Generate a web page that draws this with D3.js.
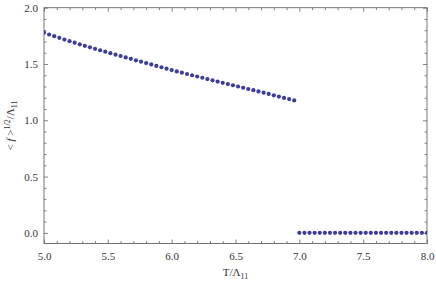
<!DOCTYPE html>
<html><head><meta charset="utf-8">
<script src="https://cdn.jsdelivr.net/npm/d3@7"></script>
<style>body{margin:0;background:#fff}svg{display:block}svg text{font-family:"Liberation Serif","DejaVu Serif",serif !important;fill:#333}</style>
</head><body><svg id="c" width="436" height="283"></svg>
<script>
const tUpper = [5.00,5.04,5.08,5.12,5.16,5.20,5.24,5.28,5.32,5.36,5.40,5.44,5.48,5.52,5.56,5.60,5.64,5.68,5.72,5.76,5.80,5.84,5.88,5.92,5.96,6.00,6.04,6.08,6.12,6.16,6.20,6.24,6.28,6.32,6.36,6.40,6.44,6.48,6.52,6.56,6.60,6.64,6.68,6.72,6.76,6.80,6.84,6.88,6.92,6.96];
const fUpper = [1.778,1.762,1.747,1.732,1.717,1.703,1.689,1.675,1.661,1.648,1.635,1.622,1.609,1.596,1.583,1.571,1.558,1.546,1.533,1.521,1.508,1.496,1.483,1.471,1.458,1.446,1.434,1.423,1.411,1.400,1.389,1.378,1.366,1.355,1.344,1.333,1.322,1.311,1.300,1.289,1.278,1.267,1.256,1.245,1.234,1.222,1.211,1.199,1.188,1.176];
const tLower = [7.00,7.04,7.08,7.12,7.16,7.20,7.24,7.28,7.32,7.36,7.40,7.44,7.48,7.52,7.56,7.60,7.64,7.68,7.72,7.76,7.80,7.84,7.88,7.92,7.96,8.00];
const fLower = [0,0,0,0,0,0,0,0,0,0,0,0,0,0,0,0,0,0,0,0,0,0,0,0,0,0];
const xTicks = [5.0,5.5,6.0,6.5,7.0,7.5,8.0];
const yTicks = [0.0,0.5,1.0,1.5,2.0];

const svg = d3.select("#c");
const L=44,R=427,T=7.7,B=243.5;
const x = d3.scaleLinear().domain([5,8]).range([L,R]);
const y = d3.scaleLinear().domain([-0.0945,2.0]).range([B,T]);
const frame="#666";

svg.append("defs").append("clipPath").attr("id","clip").append("rect")
  .attr("x",L).attr("y",T).attr("width",R-L).attr("height",B-T);

const xMinor = d3.range(50,81).map(v=>v/10).filter(v=>Math.abs(v*2-Math.round(v*2))>1e-6);
const yMinor = d3.range(0,21).map(v=>v/10).filter(v=>Math.abs(v*2-Math.round(v*2))>1e-6);

const gB = svg.append("g").attr("transform",`translate(0,${B})`)
  .call(d3.axisBottom(x).tickValues(xTicks).tickFormat(d3.format(".1f")).tickSizeInner(-4).tickSizeOuter(0).tickPadding(9));
const gBm = svg.append("g").attr("transform",`translate(0,${B})`)
  .call(d3.axisBottom(x).tickValues(xMinor).tickFormat("").tickSizeInner(-2.5).tickSizeOuter(0));
const gT = svg.append("g").attr("transform",`translate(0,${T})`)
  .call(d3.axisTop(x).tickValues(xTicks).tickFormat("").tickSizeInner(-4).tickSizeOuter(0));
const gTm = svg.append("g").attr("transform",`translate(0,${T})`)
  .call(d3.axisTop(x).tickValues(xMinor).tickFormat("").tickSizeInner(-2.5).tickSizeOuter(0));
const gL = svg.append("g").attr("transform",`translate(${L},0)`)
  .call(d3.axisLeft(y).tickValues(yTicks).tickFormat(d3.format(".1f")).tickSizeInner(-4).tickSizeOuter(0).tickPadding(6));
const gLm = svg.append("g").attr("transform",`translate(${L},0)`)
  .call(d3.axisLeft(y).tickValues(yMinor).tickFormat("").tickSizeInner(-2.5).tickSizeOuter(0));
const gR = svg.append("g").attr("transform",`translate(${R},0)`)
  .call(d3.axisRight(y).tickValues(yTicks).tickFormat("").tickSizeInner(-4).tickSizeOuter(0));
const gRm = svg.append("g").attr("transform",`translate(${R},0)`)
  .call(d3.axisRight(y).tickValues(yMinor).tickFormat("").tickSizeInner(-2.5).tickSizeOuter(0));

[gB,gBm,gT,gTm,gL,gLm,gR,gRm].forEach(g=>{
  g.attr("font-family",null);
  g.selectAll(".domain").remove();
  g.selectAll("line").attr("stroke",frame).attr("stroke-width",0.8);
  g.selectAll("text").style("font-family","'Liberation Serif', serif").attr("font-size",11).attr("fill","#333");
});
svg.append("rect").attr("x",L).attr("y",T).attr("width",R-L).attr("height",B-T)
  .attr("fill","none").attr("stroke",frame).attr("stroke-width",0.9);

const color="#3d3d99";
const pts = svg.append("g").attr("clip-path","url(#clip)");
pts.selectAll("circle.u").data(tUpper.map((t,i)=>[t,fUpper[i]])).join("circle")
  .attr("class","u").attr("cx",d=>x(d[0])).attr("cy",d=>y(d[1])).attr("r",2.1).attr("fill",color);
pts.selectAll("circle.l").data(tLower.map((t,i)=>[t,fLower[i]])).join("circle")
  .attr("class","l").attr("cx",d=>x(d[0])).attr("cy",d=>y(d[1])).attr("r",2.1).attr("fill",color);

const xl = svg.append("text").attr("x",(L+R)/2).attr("y",276).attr("text-anchor","middle").attr("font-size",11);
xl.append("tspan").text("T/Λ");
xl.append("tspan").attr("font-size",8).attr("dy",2.5).text("11");
const yl = svg.append("text").attr("transform",`translate(14,${(T+B)/2}) rotate(-90)`).attr("text-anchor","middle").attr("font-size",11);
yl.append("tspan").text("< ");
yl.append("tspan").attr("font-style","italic").text("f");
yl.append("tspan").text(" >");
yl.append("tspan").attr("font-size",8).attr("dy",-4).text("1/2");
yl.append("tspan").attr("dy",4).text("/Λ");
yl.append("tspan").attr("font-size",8).attr("dy",2.5).text("11");
</script></body></html>
